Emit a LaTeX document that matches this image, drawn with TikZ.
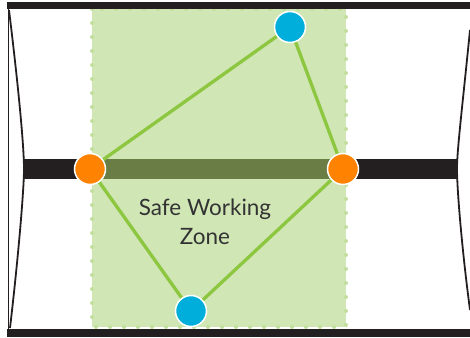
\documentclass[tikz,border=0pt]{standalone}
\usepackage{fontspec}
\setmainfont{Lato}
\pgfdeclarelayer{back}
\pgfdeclarelayer{links}
\pgfsetlayers{back,links,main}
\definecolor{zonefill}{HTML}{D0E6B5}
\definecolor{zonedot}{HTML}{C2DF9E}
\definecolor{linkgreen}{HTML}{8DC63F}
\definecolor{bardark}{HTML}{231F20}
\definecolor{barolive}{HTML}{6A7D45}
\definecolor{jointorange}{HTML}{FF8200}
\definecolor{jointblue}{HTML}{00AEDB}
\definecolor{labelgray}{HTML}{333333}
\tikzset{
  frame/.style={draw=bardark, line width=1.8pt},
  rail/.style={fill=bardark},
  link/.style={draw=linkgreen, line width=3.3pt},
  joint/.style={circle, draw=white, line width=1.5pt, minimum size=31pt, inner sep=0pt},
  orangejoint/.style={joint, fill=jointorange},
  bluejoint/.style={joint, fill=jointblue},
}
\begin{document}
\begin{tikzpicture}[x=1pt, y=-1pt]
  \useasboundingbox (0,0) rectangle (470,337);
  \begin{pgfonlayer}{back}
    % safe zone with dotted border
    \fill[zonefill] (92,9) rectangle (346,327);
    \draw[zonedot, line width=4pt, line cap=round, dash pattern=on 0pt off 14pt] (92,9) rectangle (346,327);
    % top and bottom rails
    \fill[rail] (7,2) rectangle (470,9);
    \fill[rail] (7,329) rectangle (470,337);
    % left and right frame edges
    \draw[frame] (8.5,9) -- (8.5,329);
    \draw[frame] (9,10) .. controls (20,100) and (24,150) .. (24,169) .. controls (24,190) and (18,260) .. (10,328);
    \draw[frame] (470,30) .. controls (462,110) and (457,150) .. (457,169) .. controls (457,190) and (462,250) .. (470,310);
    % middle beam
    \fill[rail] (24,159) rectangle (457,179);
    \fill[barolive] (90,159) rectangle (343,179);
  \end{pgfonlayer}
  % joints
  \node[orangejoint] (L) at (90,169) {};
  \node[orangejoint] (R) at (343,169) {};
  \node[bluejoint] (T) at (290,27) {};
  \node[bluejoint] (B) at (191,311) {};
  % links between the joints
  \begin{pgfonlayer}{links}
    \draw[link] (L.center) -- (T.center);
    \draw[link] (T.center) -- (R.center);
    \draw[link] (R.center) -- (B.center);
    \draw[link] (B.center) -- (L.center);
  \end{pgfonlayer}
  % label
  \node[text=labelgray, font=\fontsize{22.5}{29}\selectfont, align=center] (label) at (205,222) {Safe Working\\Zone};
\end{tikzpicture}
\end{document}
